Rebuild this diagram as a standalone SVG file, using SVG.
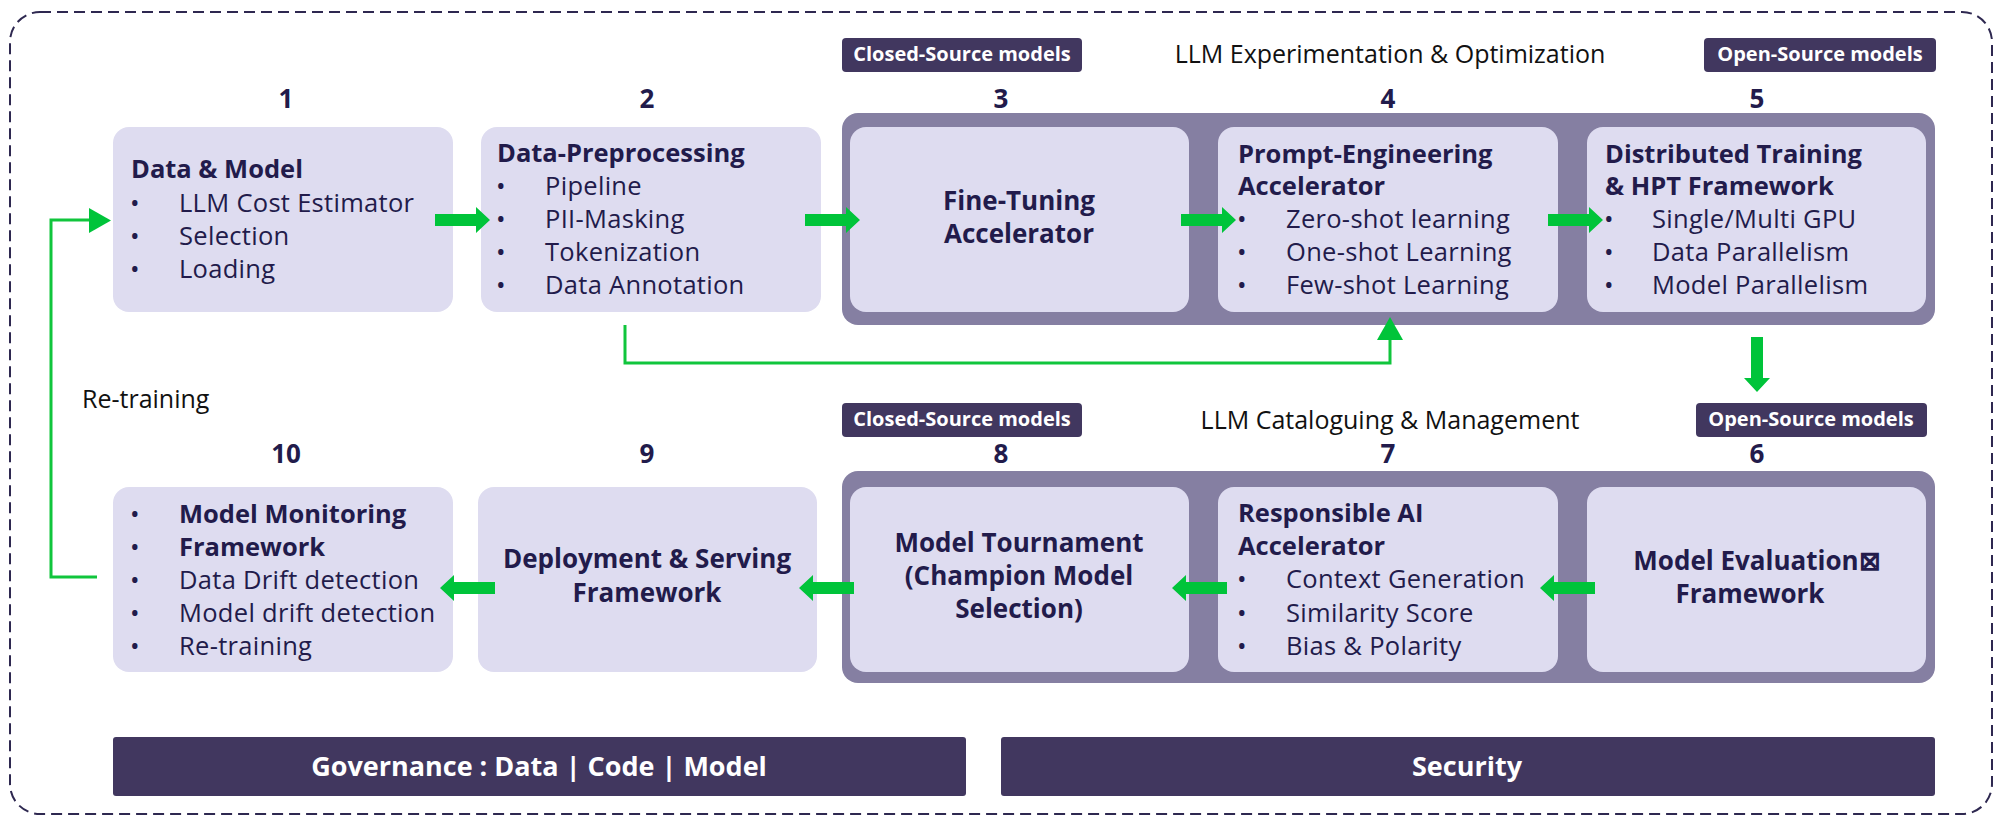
<svg xmlns="http://www.w3.org/2000/svg" width="1999" height="818" viewBox="0 0 1999 818">
<defs>
<style>
text{font-family:"Open Sans","Liberation Sans",sans-serif;fill:#221b4b}
.node{fill:#dedcf0}
.cont{fill:#857fa2}
.badge{fill:#41375f}
.bt{font-size:20px;font-weight:700;fill:#fff;text-anchor:middle}
.num{font-size:26px;font-weight:700;text-anchor:middle}
.h{font-size:25.5px;font-weight:700}
.hc{font-size:26px;font-weight:700;text-anchor:middle}
.t{font-size:25.5px;letter-spacing:0.3px}
.title{font-size:25px;fill:#111;text-anchor:middle}
.bar{fill:#41375f}
.bart{font-size:27px;font-weight:700;fill:#fff;text-anchor:middle}
.fat{fill:#00c43a}
.thin{fill:none;stroke:#10c53c;stroke-width:3}
.head{fill:#00c43a}
</style>
<path id="fatArrow" d="M0,0 L-14,-13 L-14,-6 L-55,-6 L-55,6 L-14,6 L-14,13 Z"/>
</defs>
<rect x="10" y="12" width="1982" height="802" rx="30" fill="none" stroke="#2e2850" stroke-width="2" stroke-dasharray="11 6"/>

<g id="containers">
<rect class="cont" x="842" y="113" width="1093" height="212" rx="16"/>
<rect class="cont" x="842" y="471" width="1093" height="212" rx="16"/>
</g>

<g id="group-titles">
<rect class="badge" x="842" y="38" width="240" height="34" rx="4"/>
<text class="bt" x="962" y="61">Closed-Source models</text>
<text class="title" x="1390" y="63">LLM Experimentation &amp; Optimization</text>
<rect class="badge" x="1704" y="38" width="232" height="34" rx="4"/>
<text class="bt" x="1820" y="61">Open-Source models</text>
<rect class="badge" x="842" y="403" width="240" height="34" rx="4"/>
<text class="bt" x="962" y="426">Closed-Source models</text>
<text class="title" x="1390" y="429">LLM Cataloguing &amp; Management</text>
<rect class="badge" x="1696" y="403" width="231" height="34" rx="4"/>
<text class="bt" x="1811" y="426">Open-Source models</text>
</g>

<g id="node-1">
<text class="num" x="286" y="108">1</text>
<rect class="node" x="113" y="127" width="340" height="185" rx="16"/>
<text class="h" x="131" y="178">Data &amp; Model</text>
<text class="t" x="130" y="212">•</text><text class="t" x="179" y="212">LLM Cost Estimator</text>
<text class="t" x="130" y="245">•</text><text class="t" x="179" y="245">Selection</text>
<text class="t" x="130" y="278">•</text><text class="t" x="179" y="278">Loading</text>
</g>

<g id="node-2">
<text class="num" x="647" y="108">2</text>
<rect class="node" x="481" y="127" width="340" height="185" rx="16"/>
<text class="h" x="497" y="162">Data-Preprocessing</text>
<text class="t" x="496" y="195">•</text><text class="t" x="545" y="195">Pipeline</text>
<text class="t" x="496" y="228">•</text><text class="t" x="545" y="228">PII-Masking</text>
<text class="t" x="496" y="261">•</text><text class="t" x="545" y="261">Tokenization</text>
<text class="t" x="496" y="294">•</text><text class="t" x="545" y="294">Data Annotation</text>
</g>

<g id="node-3">
<text class="num" x="1001" y="108">3</text>
<rect class="node" x="850" y="127" width="339" height="185" rx="16"/>
<text class="hc"><tspan x="1019" y="210">Fine-Tuning</tspan><tspan x="1019" y="243">Accelerator</tspan></text>
</g>

<g id="node-4">
<text class="num" x="1388" y="108">4</text>
<rect class="node" x="1218" y="127" width="340" height="185" rx="16"/>
<text class="h"><tspan x="1238" y="163">Prompt-Engineering</tspan><tspan x="1238" y="195">Accelerator</tspan></text>
<text class="t" x="1237" y="228">•</text><text class="t" x="1286" y="228">Zero-shot learning</text>
<text class="t" x="1237" y="261">•</text><text class="t" x="1286" y="261">One-shot Learning</text>
<text class="t" x="1237" y="294">•</text><text class="t" x="1286" y="294">Few-shot Learning</text>
</g>

<g id="node-5">
<text class="num" x="1757" y="108">5</text>
<rect class="node" x="1587" y="127" width="339" height="185" rx="16"/>
<text class="h"><tspan x="1605" y="163">Distributed Training</tspan><tspan x="1605" y="195">&amp; HPT Framework</tspan></text>
<text class="t" x="1604" y="228">•</text><text class="t" x="1652" y="228">Single/Multi GPU</text>
<text class="t" x="1604" y="261">•</text><text class="t" x="1652" y="261">Data Parallelism</text>
<text class="t" x="1604" y="294">•</text><text class="t" x="1652" y="294">Model Parallelism</text>
</g>

<g id="node-6">
<text class="num" x="1757" y="463">6</text>
<rect class="node" x="1587" y="487" width="339" height="185" rx="16"/>
<text class="hc"><tspan x="1757" y="570">Model Evaluation⊠</tspan><tspan x="1750" y="603">Framework</tspan></text>
</g>

<g id="node-7">
<text class="num" x="1388" y="463">7</text>
<rect class="node" x="1218" y="487" width="340" height="185" rx="16"/>
<text class="h"><tspan x="1238" y="522">Responsible AI</tspan><tspan x="1238" y="555">Accelerator</tspan></text>
<text class="t" x="1237" y="588">•</text><text class="t" x="1286" y="588">Context Generation</text>
<text class="t" x="1237" y="622">•</text><text class="t" x="1286" y="622">Similarity Score</text>
<text class="t" x="1237" y="655">•</text><text class="t" x="1286" y="655">Bias &amp; Polarity</text>
</g>

<g id="node-8">
<text class="num" x="1001" y="463">8</text>
<rect class="node" x="850" y="487" width="339" height="185" rx="16"/>
<text class="hc"><tspan x="1019" y="552">Model Tournament</tspan><tspan x="1019" y="585">(Champion Model</tspan><tspan x="1019" y="618">Selection)</tspan></text>
</g>

<g id="node-9">
<text class="num" x="647" y="463">9</text>
<rect class="node" x="478" y="487" width="339" height="185" rx="16"/>
<text class="hc"><tspan x="647" y="568">Deployment &amp; Serving</tspan><tspan x="647" y="602">Framework</tspan></text>
</g>

<g id="node-10">
<text class="num" x="286" y="463">10</text>
<rect class="node" x="113" y="487" width="340" height="185" rx="16"/>
<text class="t" x="130" y="523">•</text><text class="t" x="130" y="556">•</text>
<text class="h"><tspan x="179" y="523">Model Monitoring</tspan><tspan x="179" y="556">Framework</tspan></text>
<text class="t" x="130" y="589">•</text><text class="t" x="179" y="589">Data Drift detection</text>
<text class="t" x="130" y="622">•</text><text class="t" x="179" y="622">Model drift detection</text>
<text class="t" x="130" y="655">•</text><text class="t" x="179" y="655">Re-training</text>
</g>

<g id="governance">
<rect class="bar" x="113" y="737" width="853" height="59" rx="3"/>
<text class="bart" x="539" y="776">Governance : Data | Code | Model</text>
</g>
<g id="security">
<rect class="bar" x="1001" y="737" width="934" height="59" rx="3"/>
<text class="bart" x="1467" y="776">Security</text>
</g>

<g id="connectors">
<use href="#fatArrow" class="fat" transform="translate(490,220)"/>
<use href="#fatArrow" class="fat" transform="translate(860,220)"/>
<use href="#fatArrow" class="fat" transform="translate(1236,220)"/>
<use href="#fatArrow" class="fat" transform="translate(1603,220)"/>
<use href="#fatArrow" class="fat" transform="translate(1757,392) rotate(90)"/>
<use href="#fatArrow" class="fat" transform="translate(1540,588) rotate(180)"/>
<use href="#fatArrow" class="fat" transform="translate(1172,588) rotate(180)"/>
<use href="#fatArrow" class="fat" transform="translate(799,588) rotate(180)"/>
<use href="#fatArrow" class="fat" transform="translate(440,588) rotate(180)"/>
<polyline class="thin" points="625,325 625,363 1390,363 1390,338"/>
<polygon class="head" points="1377,340 1403,340 1390,317"/>
<polyline class="thin" points="97,577 51,577 51,220 90,220"/>
<polygon class="head" points="89,208 89,233 111,220.5"/>
<text x="82" y="408" style="font-size:25px;fill:#111">Re-training</text>
</g>
</svg>
